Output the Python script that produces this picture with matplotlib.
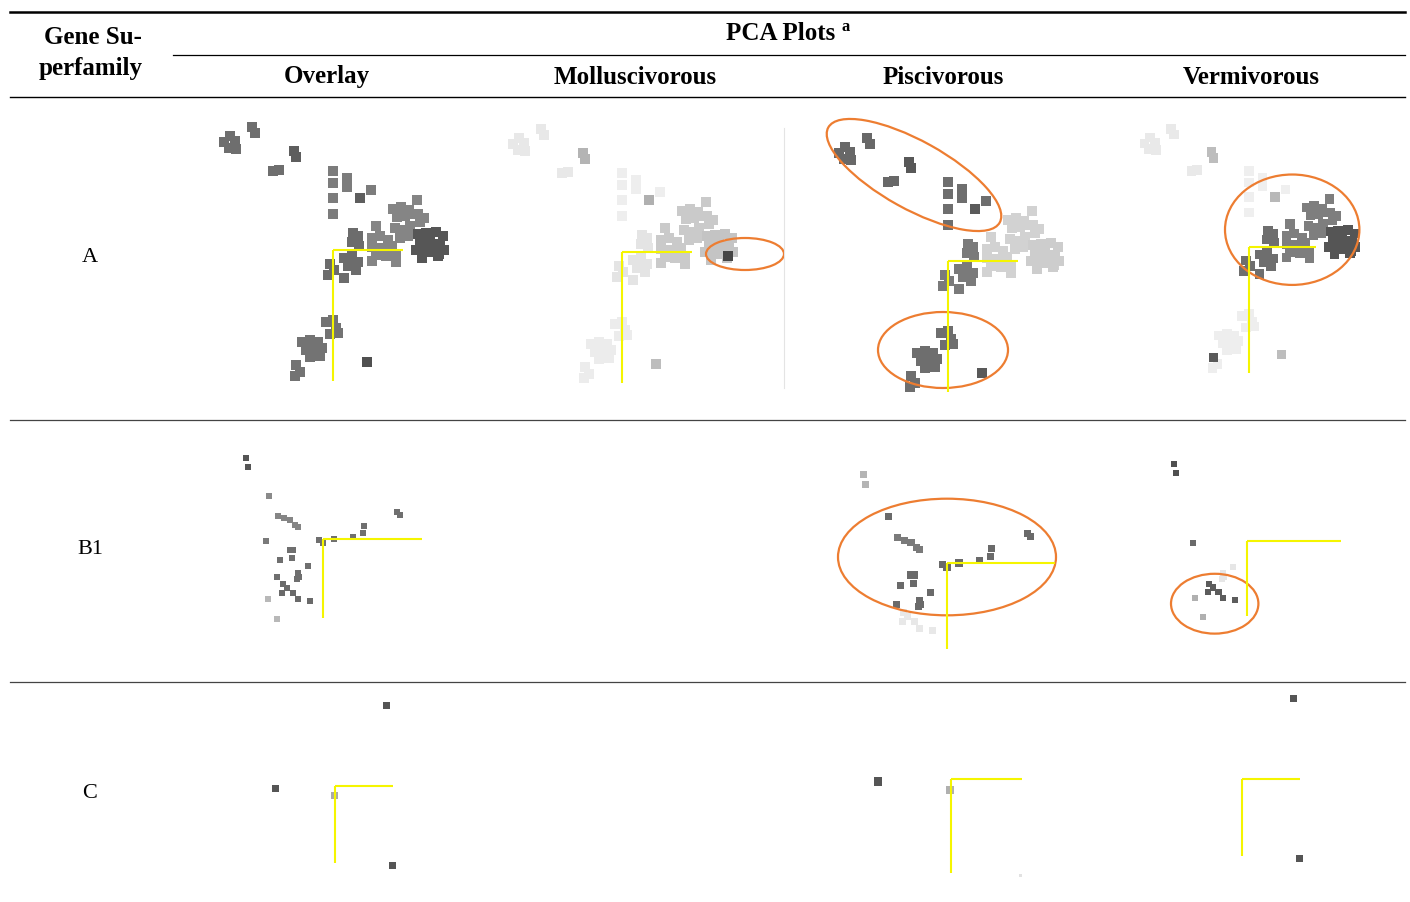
#Table of PCA plots per conotoxin gene superfamily
import matplotlib
matplotlib.use("Agg")
import matplotlib.pyplot as plt
from matplotlib.patches import Ellipse

plt.rcParams['font.family'] = ['Liberation Serif', 'DejaVu Serif']

#Column / row labels
columns = ["Overlay", "Molluscivorous", "Piscivorous", "Vermivorous"]
superfamilies = ["A", "B1", "C"]

#Superfamily A - PCA scores (PC1, PC2) and cluster of each point
a_pc1 = [-10.9, -10.3, -10.4, -9.7, -9.8, -8.1, -7.8, -6.0, -5.4,
         -3.9, -3.7,
         0.0, 0.0, 1.4, 1.4, 3.8, 0.0, 0.0,
         2.7,
         2.0, 2.5, 1.9, 2.6, 1.1, 1.9, 2.5, 1.5, 2.3, -0.3, 0.1, -0.5, 1.1,
         8.4, 6.0, 6.8, 7.6, 6.4, 7.2, 7.9, 8.5, 9.1, 8.7, 6.2, 7.0, 7.7, 6.7,
         7.5, 4.3, 3.9, 4.7, 5.5, 3.9, 4.9, 5.9, 4.3, 5.3, 6.3, 6.3, 3.9,
         8.5, 9.3, 10.3, 11.0, 8.7, 9.7, 10.7, 8.3, 9.3, 10.3, 11.1, 8.9, 10.5,
         10.6,
         -0.7, 0.0, 0.3, -0.3, 0.5, -3.1, -2.3, -1.5, -2.7, -1.8, -1.1, -2.3,
         -1.3, -3.3, -3.8,
         -3.7,
         3.4]
a_pc2 = [10.8, 11.4, 10.2, 10.1, 10.9, 12.3, 11.7, 7.9, 8.0,
         9.9, 9.3,
         7.9, 6.7, 7.2, 6.3, 6.0, 5.2, 3.6,
         5.2,
         1.7, 1.4, 0.8, 0.4, -0.8, -0.6, -1.2, -1.6, -2.0, -1.4, -2.0, -2.5, -2.8,
         5.0, 4.1, 4.3, 4.0, 3.3, 3.4, 3.6, 3.6, 3.2, 2.8, 2.2, 2.0, 2.4, 1.2,
         1.4, 2.4, 1.2, 1.4, 1.0, 0.3, 0.2, 0.4, -0.5, -0.6, -0.5, -1.2, -1.1,
         1.6, 1.7, 1.8, 1.4, 0.8, 0.8, 0.6, 0.0, -0.2, -0.2, 0.0, -0.8, -0.6,
         -0.4,
         -7.2, -7.0, -7.8, -8.4, -8.3, -9.2, -9.0, -9.2, -10.0, -10.0, -9.8, -10.7,
         -10.6, -12.2, -12.6,
         -11.5,
         -11.2]
a_grp = (["tl"] * 9 + ["tl2"] * 2 + ["mid"] * 7 + ["mid2"] + ["ctr"] * 13
         + ["main"] * 27 + ["dark"] * 13 + ["mk"] + ["low"] * 15 + ["low2"] + ["out"])

#Superfamily B1
b1_pc1 = [-7.7, -7.5, -5.4, -4.5, -3.9, -3.3, -2.8, -2.5, -5.7,
          -0.4, 0.0, 1.1, 3.0, 4.0, 4.1, 7.4, 7.7,
          -3.3, -3.0, -3.1, -4.3, -4.6,
          -1.5, -2.5, -2.4, -2.6,
          -4.0, -3.6, -4.1, -3.0, -2.5, -1.3,
          -5.5, -4.6]
b1_pc2 = [8.1, 7.2, 4.3, 2.3, 2.1, 1.9, 1.4, 1.2, -0.2,
          -0.1, -0.4, 0.0, 0.2, 0.6, 1.3, 2.7, 2.4,
          -1.1, -1.1, -1.9, -2.1, -3.8,
          -2.7, -3.4, -3.8, -4.0,
          -4.5, -4.9, -5.4, -5.4, -6.0, -6.2,
          -6.0, -8.0]
b1_grp = (["top"] * 2 + ["up"] + ["blob"] * 5 + ["left"] + ["arm"] * 8 + ["core"] * 5
          + ["mid"] * 4 + ["bot"] * 6 + ["pale"] * 2)

#Superfamily C
c_pc1 = [5.1, -6.0, -0.1, 5.7]
c_pc2 = [8.1, -0.2, -0.9, -7.9]
c_grp = ["ur", "l", "c", "lr"]

#grey shade of each cluster in each panel (None = not shown)
shades = {
    "A": {
        "Overlay": {"tl": "#6e6e6e", "tl2": "#5e5e5e", "mid": "#7c7c7c", "mid2": "#5e5e5e",
                    "ctr": "#6c6c6c", "main": "#858585", "dark": "#565656", "mk": "#565656",
                    "low": "#737373", "low2": "#737373", "out": "#505050"},
        "Molluscivorous": {"tl": "#e8e8e8", "tl2": "#b4b4b4", "mid": "#eeeeee", "mid2": "#b0b0b0",
                           "ctr": "#e4e4e4", "main": "#cacaca", "dark": "#c4c4c4", "mk": "#454545",
                           "low": "#ececec", "low2": "#ececec", "out": "#bdbdbd"},
        "Piscivorous": {"tl": "#686868", "tl2": "#585858", "mid": "#6e6e6e", "mid2": "#5a5a5a",
                        "ctr": "#7a7a7a", "main": "#d2d2d2", "dark": "#cdcdcd", "mk": "#d0d0d0",
                        "low": "#6e6e6e", "low2": "#6e6e6e", "out": "#595959"},
        "Vermivorous": {"tl": "#e9e9e9", "tl2": "#bdbdbd", "mid": "#efefef", "mid2": "#b8b8b8",
                        "ctr": "#6e6e6e", "main": "#7e7e7e", "dark": "#555555", "mk": "#555555",
                        "low": "#eeeeee", "low2": "#5a5a5a", "out": "#bdbdbd"},
    },
    "B1": {
        "Overlay": {"top": "#555555", "up": "#8a8a8a", "blob": "#858585", "left": "#7a7a7a",
                    "arm": "#6f6f6f", "core": "#6f6f6f", "mid": "#6f6f6f", "bot": "#6a6a6a",
                    "pale": "#b8b8b8"},
        "Piscivorous": {"top": "#b4b4b4", "up": "#6a6a6a", "blob": "#7a7a7a", "left": None,
                        "arm": "#6a6a6a", "core": "#6a6a6a", "mid": "#6a6a6a", "bot": "#e8e8e8",
                        "pale": None},
        "Vermivorous": {"top": "#505050", "up": None, "blob": None, "left": "#6a6a6a",
                        "arm": None, "core": None, "mid": "#e6e6e6", "bot": "#5c5c5c",
                        "pale": "#b0b0b0"},
    },
    "C": {
        "Overlay": {"ur": "#555555", "l": "#555555", "c": "#aaaaaa", "lr": "#555555"},
        "Piscivorous": {"ur": None, "l": "#555555", "c": "#b0b0b0", "lr": "#e2e2e2"},
        "Vermivorous": {"ur": "#555555", "l": None, "c": None, "lr": "#555555"},
    },
}

data = {"A": (a_pc1, a_pc2, a_grp), "B1": (b1_pc1, b1_pc2, b1_grp), "C": (c_pc1, c_pc2, c_grp)}

#layout (pixels) - cell boxes, origin of each plot and pixels per PC unit
col_x = {"Overlay": (180, 480), "Molluscivorous": (490, 784),
         "Piscivorous": (790, 1110), "Vermivorous": (1120, 1400)}
col_cx = {"Overlay": 327, "Molluscivorous": 635, "Piscivorous": 943, "Vermivorous": 1251}
row_y = {"A": (100, 418), "B1": (423, 680), "C": (685, 900)}
row_label_y = {"A": 258, "B1": 550, "C": 794}
origin = {
    ("A", "Overlay"): (333, 250, 10), ("A", "Molluscivorous"): (622, 252, 10),
    ("A", "Piscivorous"): (948, 261, 10), ("A", "Vermivorous"): (1249, 247, 9.6),
    ("B1", "Overlay"): (323, 539, 10), ("B1", "Piscivorous"): (947, 563, 10.9),
    ("B1", "Vermivorous"): (1247, 541, 9.5),
    ("C", "Overlay"): (335, 786, 10), ("C", "Piscivorous"): (951, 779, 12.2),
    ("C", "Vermivorous"): (1242, 779, 10),
}
axis_len = {"A": (7.0, 13.1), "B1": (9.9, 7.9), "C": (5.8, 7.7)}  #PC1 right, PC2 down
marker_px = {"A": 10.0, "B1": 6.5, "C": 7.0}
ellipses = {
    ("A", "Molluscivorous"): [(12.3, -0.2, 7.8, 3.2, 0)],
    ("A", "Piscivorous"): [(-3.4, 8.6, 19.6, 6.8, -29), (-0.5, -8.9, 13.0, 7.6, 0)],
    ("A", "Vermivorous"): [(4.5, 1.8, 14.0, 11.5, 0)],
    ("B1", "Piscivorous"): [(0.0, 0.55, 20.0, 10.7, 0)],
    ("B1", "Vermivorous"): [(-3.4, -6.6, 9.2, 6.3, 0)],
}

W, H = 1410, 902
fig = plt.figure(figsize=(W / 100, H / 100), dpi=100)

#background axes in pixel units for the table rules and text
bg = fig.add_axes([0, 0, 1, 1])
bg.set_xlim(0, W)
bg.set_ylim(H, 0)
bg.axis("off")

bg.plot([10, 1405], [12, 12], color="black", lw=1.8)
bg.plot([173, 1405], [55, 55], color="black", lw=0.9)
bg.plot([10, 1405], [97, 97], color="black", lw=1.0)
bg.plot([10, 1405], [420, 420], color="#444444", lw=0.9)
bg.plot([10, 1405], [682, 682], color="#444444", lw=0.9)
bg.plot([784, 784], [128, 388], color="#e4e4e4", lw=0.8)

bg.text(93, 38, "Gene Su-", ha="center", va="center", fontsize=18, fontweight="bold")
bg.text(91, 68, "perfamily", ha="center", va="center", fontsize=18, fontweight="bold")
bg.text(781, 34, "PCA Plots", ha="center", va="center", fontsize=18, fontweight="bold")
bg.text(842, 27, "a", ha="left", va="center", fontsize=12, fontweight="bold")
for col in columns:
    bg.text(col_cx[col], 77, col, ha="center", va="center", fontsize=18, fontweight="bold")
for sf in superfamilies:
    bg.text(90, row_label_y[sf], sf, ha="center", va="center", fontsize=16)


def lum(c):
    return int(c[1:3], 16)


for sf in superfamilies:
    pc1, pc2, grp = data[sf]
    for col in columns:
        if (sf, col) not in origin:
            continue
        ox, oy, s = origin[(sf, col)]
        x0, x1 = col_x[col]
        y0, y1 = row_y[sf]
        ax = fig.add_axes([x0 / W, 1 - y1 / H, (x1 - x0) / W, (y1 - y0) / H])
        ax.set_xlim((x0 - ox) / s, (x1 - ox) / s)
        ax.set_ylim((oy - y1) / s, (oy - y0) / s)
        ax.axis("off")

        pts = [(p1, p2, shades[sf][col][g]) for p1, p2, g in zip(pc1, pc2, grp)
               if shades[sf][col][g] is not None]
        pts.sort(key=lambda p: -lum(p[2]))  #light first, highlighted on top
        size = (marker_px[sf] * s / 10 * 0.72) ** 2
        if sf == "C" and col == "Piscivorous":
            sizes = [size if p[2] != "#e2e2e2" else size * 0.15 for p in pts]
        else:
            sizes = size
        ax.scatter([p[0] for p in pts], [p[1] for p in pts], s=sizes, marker="s",
                   c=[p[2] for p in pts], linewidths=0)

        lx, ly = axis_len[sf]
        ax.plot([0, lx], [0, 0], color="#f5f500", lw=1.5, solid_capstyle="butt")
        ax.plot([0, 0], [0, -ly], color="#f5f500", lw=1.5, solid_capstyle="butt")

        for ex, ey, ew, eh, ang in ellipses.get((sf, col), []):
            ax.add_patch(Ellipse((ex, ey), ew, eh, angle=ang, fill=False,
                                 edgecolor="#ed7d31", lw=1.6))

fig.savefig("out.png", dpi=100)
